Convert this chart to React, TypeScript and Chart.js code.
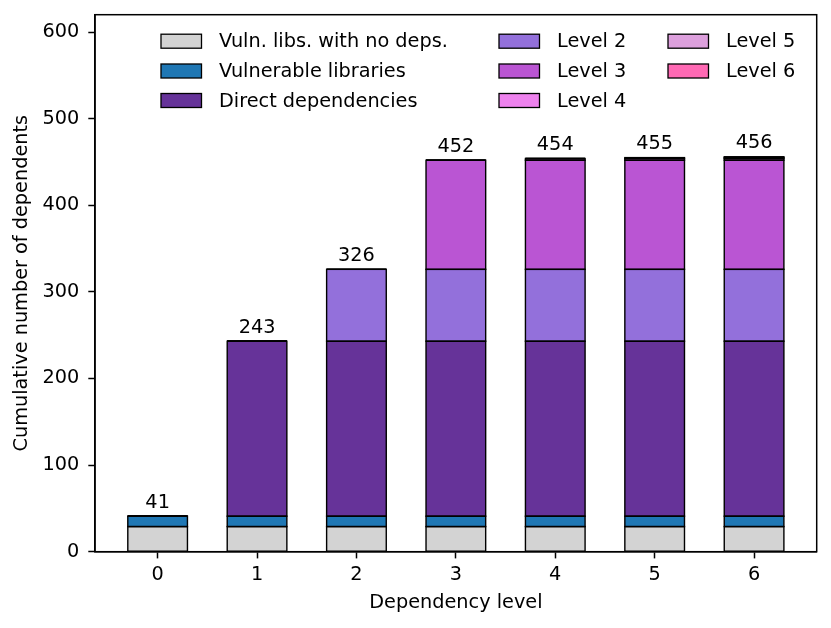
import { useEffect, useRef } from "react";
import { Chart, registerables, type Plugin } from "chart.js";

Chart.register(...registerables);

const FONT = "'DejaVu Sans', sans-serif";
const FONT_SIZE = 19.3;

// dependency levels on the x axis
const LEVELS = [0, 1, 2, 3, 4, 5, 6];

// how many dependents each group adds at each level (stacked)
const NO_DEPS = [29, 29, 29, 29, 29, 29, 29];
const VULNERABLE = [12, 12, 12, 12, 12, 12, 12];
const DIRECT = [0, 202, 202, 202, 202, 202, 202];
const LEVEL_2 = [0, 0, 83, 83, 83, 83, 83];
const LEVEL_3 = [0, 0, 0, 126, 126, 126, 126];
const LEVEL_4 = [0, 0, 0, 0, 2, 2, 2];
const LEVEL_5 = [0, 0, 0, 0, 0, 1, 1];
const LEVEL_6 = [0, 0, 0, 0, 0, 0, 1];

const SERIES = [
  { label: "Vuln. libs. with no deps.", data: NO_DEPS, color: "#d3d3d3" },
  { label: "Vulnerable libraries", data: VULNERABLE, color: "#1f77b4" },
  { label: "Direct dependencies", data: DIRECT, color: "#663399" },
  { label: "Level 2", data: LEVEL_2, color: "#9370db" },
  { label: "Level 3", data: LEVEL_3, color: "#ba55d3" },
  { label: "Level 4", data: LEVEL_4, color: "#ee82ee" },
  { label: "Level 5", data: LEVEL_5, color: "#dda0dd" },
  { label: "Level 6", data: LEVEL_6, color: "#ff69b4" },
];

// legend columns, as matplotlib's ncol=3 fills them
const LEGEND_COLUMNS = [[0, 1, 2], [3, 4, 5], [6, 7]];

const EDGE = 1.4;

/** Matplotlib-style centred bar edges (so thin bars still show as black lines). */
const barEdges: Plugin<"bar"> = {
  id: "barEdges",
  afterDatasetsDraw(chart) {
    const { ctx } = chart;
    ctx.save();
    ctx.lineWidth = EDGE;
    ctx.strokeStyle = "#000";
    chart.data.datasets.forEach((_, di) => {
      chart.getDatasetMeta(di).data.forEach((el) => {
        const { x, y, base, width } = el.getProps(["x", "y", "base", "width"], true) as any;
        const top = Math.min(y, base);
        ctx.strokeRect(x - width / 2, top, width, Math.abs(base - y));
      });
    });
    ctx.restore();
  },
};

/** Spines on top/right, bar totals and the three-column legend. */
const decorations: Plugin<"bar"> = {
  id: "decorations",
  afterDraw(chart) {
    const { ctx, chartArea: a, scales } = chart;
    ctx.save();

    // totals above each bar
    ctx.font = `${FONT_SIZE}px ${FONT}`;
    ctx.fillStyle = "#000";
    ctx.textAlign = "center";
    ctx.textBaseline = "bottom";
    LEVELS.forEach((lvl, i) => {
      const total = SERIES.reduce((s, d) => s + d.data[i], 0);
      ctx.fillText(String(total), scales.x.getPixelForValue(lvl), scales.y.getPixelForValue(total) - 4);
    });

    // legend
    const colX = [161, 499, 668];
    const rowY = [41.2, 71, 100.5];
    ctx.textAlign = "left";
    ctx.textBaseline = "middle";
    ctx.lineWidth = 1.3;
    ctx.strokeStyle = "#000";
    LEGEND_COLUMNS.forEach((col, c) => {
      col.forEach((idx, r) => {
        const ds = chart.data.datasets[idx];
        const x = colX[c];
        const y = rowY[r];
        ctx.fillStyle = ds.backgroundColor as string;
        ctx.fillRect(x, y - 7, 40.5, 14);
        ctx.strokeRect(x, y - 7, 40.5, 14);
        ctx.fillStyle = "#000";
        ctx.fillText(ds.label ?? "", x + 58, y + 1);
      });
    });

    // full box around the axes
    ctx.lineWidth = 1.5;
    ctx.strokeRect(a.left, a.top, a.right - a.left, a.bottom - a.top);
    ctx.restore();
  },
};

export default function App() {
  const canvasRef = useRef<HTMLCanvasElement>(null);

  useEffect(() => {
    const canvas = canvasRef.current;
    if (!canvas) return;
    Chart.defaults.font.family = FONT;
    Chart.defaults.font.size = FONT_SIZE;
    Chart.defaults.color = "#000";

    const tickGrid = {
      offset: false,
      drawOnChartArea: false,
      drawTicks: true,
      tickLength: 6.7,
      tickWidth: 1.5,
      tickColor: "#000",
    };

    const chart = new Chart(canvas, {
      type: "bar",
      data: {
        labels: LEVELS,
        datasets: SERIES.map((s) => ({
          label: s.label,
          data: s.data,
          backgroundColor: s.color,
          borderWidth: 0,
          categoryPercentage: 1,
          barPercentage: 0.6,
        })),
      },
      options: {
        animation: false,
        responsive: true,
        maintainAspectRatio: false,
        layout: { padding: { left: 0, top: 14.7, right: 14.3, bottom: 0 } },
        plugins: { legend: { display: false }, tooltip: { enabled: false } },
        scales: {
          x: {
            type: "linear",
            offset: false,
            stacked: true,
            min: -0.63,
            max: 6.63,
            grid: tickGrid,
            border: { display: true, color: "#000", width: 1.5 },
            ticks: { stepSize: 1, includeBounds: false, padding: 5 },
            title: {
              display: true,
              text: "Dependency level",
              padding: { top: 0, bottom: 13.4 },
            },
            afterFit: (scale) => {
              scale.height = 76.3;
              scale.paddingLeft = 0;
              scale.paddingRight = 0;
            },
          },
          y: {
            stacked: true,
            min: 0,
            max: 620,
            grid: tickGrid,
            border: { display: true, color: "#000", width: 1.5 },
            ticks: { stepSize: 100, includeBounds: false, padding: 9 },
            title: {
              display: true,
              text: "Cumulative number of dependents",
              padding: { top: 10.4, bottom: 0 },
            },
            afterFit: (scale) => {
              scale.width = 95;
              scale.paddingTop = 0;
              scale.paddingBottom = 0;
            },
          },
        },
      },
      plugins: [barEdges, decorations],
    });
    return () => chart.destroy();
  }, []);

  return (
    <div style={{ position: "fixed", left: 0, top: 0, width: 831, height: 628, background: "#fff" }}>
      <canvas ref={canvasRef} />
    </div>
  );
}
